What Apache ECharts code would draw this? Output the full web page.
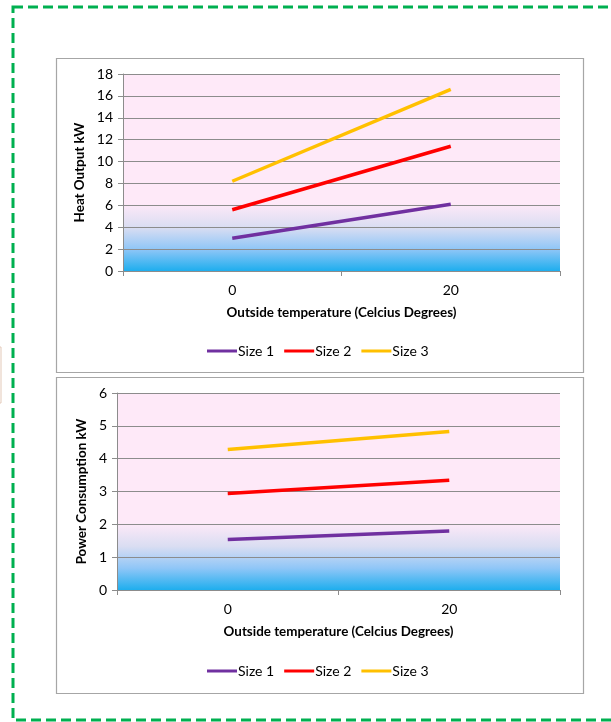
<!DOCTYPE html>
<html>
<head>
<meta charset="utf-8">
<script src="https://cdn.jsdelivr.net/npm/echarts@6/dist/echarts.min.js"></script>
<style>
html,body{margin:0;padding:0;background:#fff;}
#c{width:611px;height:722px;}
</style>
</head>
<body>
<div id="c"></div>
<script>
var categories = ['0', '20'];
var seriesNames = ['Size 1', 'Size 2', 'Size 3'];
var heatSize1 = [3.0, 6.1];
var heatSize2 = [5.6, 11.4];
var heatSize3 = [8.2, 16.6];
var powerSize1 = [1.54, 1.80];
var powerSize2 = [2.94, 3.34];
var powerSize3 = [4.28, 4.83];
var heatTicks = [0, 18, 2];
var powerTicks = [0, 6, 1];
var colors = ['#7030a0', '#ff0000', '#ffc000'];
var FONT = 'Lato';

var chart = echarts.init(document.getElementById('c'), null, {renderer: 'canvas'});

function bg() {
  return new echarts.graphic.LinearGradient(0, 0, 0, 1, [
    {offset: 0, color: '#fee9f8'},
    {offset: 0.66, color: '#fee9f8'},
    {offset: 0.78, color: '#d9ddf2'},
    {offset: 0.89, color: '#8fc6f7'},
    {offset: 1, color: '#1eaeee'}
  ]);
}

function gridCfg(left, top, right, bottom) {
  return {left: left, top: top, width: right - left, height: bottom - top, show: true,
    backgroundColor: bg(), borderWidth: 0, containLabel: false};
}

function xAxisCfg(idx) {
  return {
    type: 'category', gridIndex: idx, data: categories, boundaryGap: true,
    name: 'Outside temperature (Celcius Degrees)', nameLocation: 'middle', nameGap: 35,
    nameTextStyle: {fontFamily: FONT, fontWeight: 'bold', fontSize: 13.4, color: '#000'},
    axisLine: {show: true, lineStyle: {color: '#8c8c8c', width: 1}},
    axisTick: {show: true, length: 5, lineStyle: {color: '#8c8c8c'}},
    axisLabel: {fontFamily: FONT, fontSize: 14, color: '#000', margin: 12},
    splitLine: {show: false}
  };
}

function yAxisCfg(idx, name, t, gap) {
  return {
    type: 'value', gridIndex: idx, min: t[0], max: t[1], interval: t[2],
    name: name, nameLocation: 'middle', nameGap: gap, nameRotate: 90,
    nameTextStyle: {fontFamily: FONT, fontWeight: 'bold', fontSize: 13.4, color: '#000'},
    axisLine: {show: true, lineStyle: {color: '#8c8c8c', width: 1}},
    axisTick: {show: true, length: 5, lineStyle: {color: '#8c8c8c'}},
    axisLabel: {fontFamily: FONT, fontSize: 14, color: '#000', margin: 10},
    splitLine: {show: true, lineStyle: {color: '#8c8c8c', width: 1}}
  };
}

function lineSeries(name, data, color, idx) {
  return {
    type: 'line', name: name, data: data, xAxisIndex: idx, yAxisIndex: idx,
    symbol: 'none', showSymbol: false, silent: true, animation: false,
    lineStyle: {color: color, width: 3.5}, itemStyle: {color: color}
  };
}

function legendCfg(top) {
  return {
    data: seriesNames, top: top, left: 207, itemWidth: 30, itemHeight: 3, itemGap: 10,
    icon: 'rect', padding: 0,
    textStyle: {fontFamily: FONT, fontSize: 14, color: '#000', padding: [0, 0, 0, -4]},
    selectedMode: false
  };
}

var option = {
  animation: false,
  backgroundColor: '#ffffff',
  color: colors,
  graphic: [
    {type: 'rect', shape: {x: 13, y: 7, width: 610, height: 713},
      style: {fill: 'none', stroke: '#00b050', lineWidth: 3, lineDash: [10, 5]}, z: 0},
    {type: 'rect', shape: {x: 56.5, y: 58.5, width: 527, height: 314},
      style: {fill: '#fff', stroke: '#a6a6a6', lineWidth: 1.2}, z: -1},
    {type: 'rect', shape: {x: 56.5, y: 377.5, width: 527, height: 316},
      style: {fill: '#fff', stroke: '#a6a6a6', lineWidth: 1.2}, z: -1},
    {type: 'rect', shape: {x: -2, y: 347, width: 3, height: 56},
      style: {fill: 'none', stroke: '#e3c9b8', lineWidth: 1}, z: 0}
  ],
  grid: [gridCfg(123, 74, 560, 271), gridCfg(117, 393, 560, 590)],
  xAxis: [xAxisCfg(0), xAxisCfg(1)],
  yAxis: [yAxisCfg(0, 'Heat Output kW', heatTicks, 32), yAxisCfg(1, 'Power Consumption kW', powerTicks, 26)],
  legend: [
    Object.assign(legendCfg(344), {seriesIndex: [0, 1, 2]}),
    Object.assign(legendCfg(664), {seriesIndex: [3, 4, 5]})
  ],
  series: [
    lineSeries(seriesNames[0], heatSize1, colors[0], 0),
    lineSeries(seriesNames[1], heatSize2, colors[1], 0),
    lineSeries(seriesNames[2], heatSize3, colors[2], 0),
    lineSeries(seriesNames[0], powerSize1, colors[0], 1),
    lineSeries(seriesNames[1], powerSize2, colors[1], 1),
    lineSeries(seriesNames[2], powerSize3, colors[2], 1)
  ]
};
chart.setOption(option);
</script>
</body>
</html>
